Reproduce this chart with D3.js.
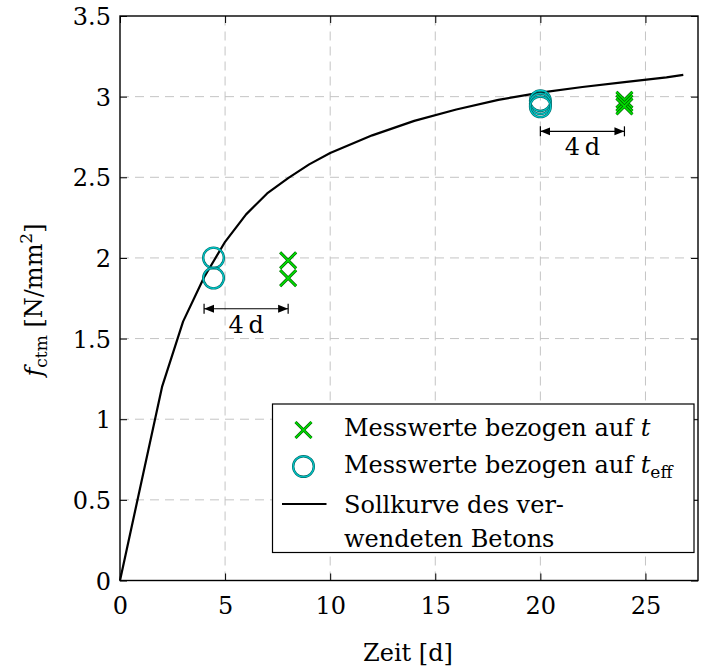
<!DOCTYPE html>
<html><head><meta charset="utf-8">
<script src="https://cdn.jsdelivr.net/npm/d3@7"></script>
<style>
html,body{margin:0;padding:0;background:#fff;}
svg{display:block;}
text{font-family:"DejaVu Serif",serif;fill:#000;}
</style></head>
<body>
<svg id="chart" width="701" height="669"></svg>
<script>
// ---- data ----
const curveT = [0, 2, 3, 4, 5, 6, 7, 8, 9, 10, 12, 14, 16, 18, 20, 22, 24, 26, 26.8];
const curveF = [0, 1.20, 1.605, 1.88, 2.10, 2.27, 2.40, 2.495, 2.58, 2.65, 2.76, 2.85, 2.92, 2.98, 3.025, 3.06, 3.09, 3.12, 3.135];
const effT = [4.45, 4.45, 20, 20, 20];
const effF = [2.0, 1.875, 2.975, 2.956, 2.937];
const measT = [8, 8, 24, 24, 24];
const measF = [1.985, 1.875, 2.98, 2.96, 2.94];
const shiftFrom = [4, 20];
const shiftTo = [8, 24];
const shiftY = [1.685, 2.785];
const shiftLabel = ["4\u2009d", "4\u2009d"];
const xTicks = [0, 5, 10, 15, 20, 25];
const yTicks = [0, 0.5, 1, 1.5, 2, 2.5, 3, 3.5];
const legendLabels = ["Messwerte bezogen auf ", "Messwerte bezogen auf ", "Sollkurve des ver-", "wendeten Betons"];

// ---- layout ----
const L = 120, R = 698, T = 16, B = 580.5;
const svg = d3.select("#chart");
const x = d3.scaleLinear().domain([0, 27.5]).range([L, R]);
const y = d3.scaleLinear().domain([0, 3.5]).range([B, T]);
const FS = 24, FSS = 17;
const FF = "DejaVu Serif";

// grid
const grid = svg.append("g").attr("stroke", "#c4c4c4").attr("stroke-width", 1).attr("stroke-dasharray", "9,6");
grid.selectAll("line.v").data(xTicks.filter(d => d > 0)).join("line")
  .attr("x1", d => x(d)).attr("x2", d => x(d)).attr("y1", B).attr("y2", T);
grid.selectAll("line.h").data(yTicks.filter(d => d > 0 && d < 3.5)).join("line")
  .attr("x1", L).attr("x2", R).attr("y1", d => y(d)).attr("y2", d => y(d));

// axes via d3 axis (inner ticks)
const xAxis = d3.axisBottom(x).tickValues(xTicks).tickSizeInner(-7).tickSizeOuter(0).tickPadding(16).tickFormat(d3.format("d"));
const gx = svg.append("g").attr("transform", `translate(0,${B})`).call(xAxis);
gx.attr("font-family", FF);
gx.select(".domain").remove();
gx.selectAll("line").attr("stroke", "#000").attr("stroke-width", 1);
gx.selectAll("text").attr("font-size", FS).attr("font-family", FF).attr("dy", "0.71em");

const yAxis = d3.axisLeft(y).tickValues(yTicks).tickSizeInner(-7).tickSizeOuter(0).tickPadding(9).tickFormat(d => String(d));
const gy = svg.append("g").attr("transform", `translate(${L},0)`).call(yAxis);
gy.attr("font-family", FF);
gy.select(".domain").remove();
gy.selectAll("line").attr("stroke", "#000").attr("stroke-width", 1);
gy.selectAll("text").attr("font-size", FS).attr("font-family", FF).attr("dy", "0.36em");

// top/right ticks
const gt = svg.append("g").attr("transform", `translate(0,${T})`).call(d3.axisTop(x).tickValues(xTicks).tickSizeInner(-7).tickSizeOuter(0).tickFormat(""));
gt.select(".domain").remove(); gt.selectAll("line").attr("stroke", "#000");
const gr = svg.append("g").attr("transform", `translate(${R},0)`).call(d3.axisRight(y).tickValues(yTicks).tickSizeInner(-7).tickSizeOuter(0).tickFormat(""));
gr.select(".domain").remove(); gr.selectAll("line").attr("stroke", "#000");

// frame
svg.append("rect").attr("x", L).attr("y", T).attr("width", R - L).attr("height", B - T)
  .attr("fill", "none").attr("stroke", "#000").attr("stroke-width", 1.4);

// curve
const pts = curveT.map((t, i) => [t, curveF[i]]);
svg.append("path").datum(pts)
  .attr("d", d3.line().x(d => x(d[0])).y(d => y(d[1])).curve(d3.curveLinear))
  .attr("fill", "none").attr("stroke", "#000").attr("stroke-width", 2.2).attr("stroke-linejoin", "round");

// markers
function drawCircle(g, cx, cy, r) {
  g.append("circle").attr("cx", cx).attr("cy", cy).attr("r", r).attr("fill", "none").attr("stroke", "#006a6a").attr("stroke-width", 2.4);
  g.append("circle").attr("cx", cx).attr("cy", cy).attr("r", r).attr("fill", "none").attr("stroke", "#00c8c8").attr("stroke-width", 1.1);
}
function drawCross(g, cx, cy, s) {
  const p = `M${cx - s},${cy - s}L${cx + s},${cy + s}M${cx - s},${cy + s}L${cx + s},${cy - s}`;
  g.append("path").attr("d", p).attr("stroke", "#006400").attr("stroke-width", 3).attr("fill", "none");
  g.append("path").attr("d", p).attr("stroke", "#00e000").attr("stroke-width", 1.6).attr("fill", "none");
}
const mk = svg.append("g");
effT.forEach((t, i) => drawCircle(mk, x(t), y(effF[i]), 10.3));
measT.forEach((t, i) => drawCross(mk, x(t), y(measF[i]), 8));

// shift arrows
const defs = svg.append("defs");
defs.append("marker").attr("id", "ah").attr("viewBox", "0 0 10 10").attr("refX", 10).attr("refY", 5)
  .attr("markerWidth", 10).attr("markerHeight", 10).attr("markerUnits", "userSpaceOnUse").attr("orient", "auto-start-reverse")
  .append("path").attr("d", "M0,1L10,5L0,9Z").attr("fill", "#000");
shiftFrom.forEach((f, i) => {
  const g = svg.append("g");
  const x1 = x(f), x2 = x(shiftTo[i]), yy = y(shiftY[i]);
  g.append("line").attr("x1", x1).attr("x2", x2).attr("y1", yy).attr("y2", yy)
    .attr("stroke", "#000").attr("stroke-width", 1.2)
    .attr("marker-start", "url(#ah)").attr("marker-end", "url(#ah)");
  [x1, x2].forEach(xx => g.append("line").attr("x1", xx).attr("x2", xx).attr("y1", yy - 5).attr("y2", yy + 5).attr("stroke", "#000").attr("stroke-width", 1.2));
  g.append("text").attr("x", (x1 + x2) / 2).attr("y", yy + 24).attr("text-anchor", "middle").attr("font-size", FS).text(shiftLabel[i]);
});

// legend
const lg = svg.append("g");
lg.append("rect").attr("x", 272.5).attr("y", 404).attr("width", 421.5).attr("height", 148.5)
  .attr("fill", "#fff").attr("stroke", "#000").attr("stroke-width", 1.2);
drawCross(lg, 303.5, 430, 8);
drawCircle(lg, 303.5, 466.5, 10.3);
lg.append("line").attr("x1", 282).attr("x2", 326.5).attr("y1", 504).attr("y2", 504).attr("stroke", "#000").attr("stroke-width", 2.2);
const lx = 344, lb = [435.5, 472.5, 512.5, 546.5];
const t1 = lg.append("text").attr("x", lx).attr("y", lb[0]).attr("font-size", FS);
t1.append("tspan").text(legendLabels[0]);
t1.append("tspan").attr("font-style", "italic").text("t");
const t2 = lg.append("text").attr("x", lx).attr("y", lb[1]).attr("font-size", FS);
t2.append("tspan").text(legendLabels[1]);
t2.append("tspan").attr("font-style", "italic").text("t");
t2.append("tspan").attr("font-size", FSS).attr("dy", 5).text("eff");
lg.append("text").attr("x", lx).attr("y", lb[2]).attr("font-size", FS).text(legendLabels[2]);
lg.append("text").attr("x", lx).attr("y", lb[3]).attr("font-size", FS).text(legendLabels[3]);

// axis titles
svg.append("text").attr("x", (L + R) / 2 - 1).attr("y", 661).attr("text-anchor", "middle").attr("font-size", FS).text("Zeit [d]");
const yl = svg.append("text").attr("transform", "translate(42,300) rotate(-90)").attr("text-anchor", "middle").attr("font-size", FS);
yl.append("tspan").attr("font-style", "italic").text("f");
yl.append("tspan").attr("font-size", FSS).attr("dy", 5).text("ctm");
yl.append("tspan").attr("dy", -5).text(" [N/mm");
yl.append("tspan").attr("font-size", FSS).attr("dy", -10).text("2");
yl.append("tspan").attr("dy", 10).text("]");
</script>
</body></html>
